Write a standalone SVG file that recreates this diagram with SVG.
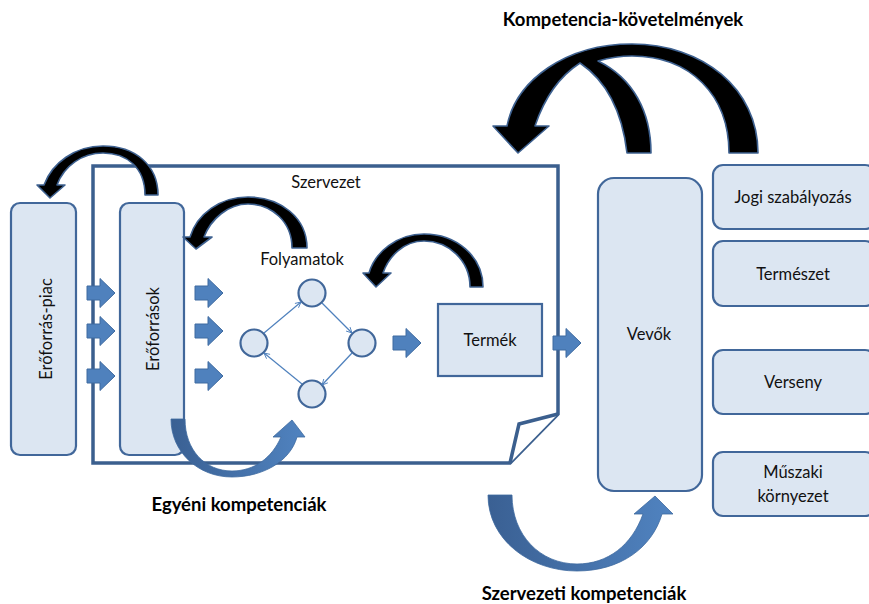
<svg xmlns="http://www.w3.org/2000/svg" width="869" height="604" viewBox="0 0 869 604">
<defs>
<style>
.box{fill:#dce6f2;stroke:#41679a;stroke-width:2.2}
.frame{fill:#fff;stroke:#3b5f8e;stroke-width:3.5;stroke-linejoin:miter}
.blk{fill:#000;stroke:#3e6190;stroke-width:1.6;stroke-linejoin:round}
.ba{fill:#4f81bd;stroke:#3e6aa0;stroke-width:1}
.thin{fill:none;stroke:#4f81bd;stroke-width:1.2;marker-end:url(#ah)}
.t{font-family:Lato,"Liberation Sans",sans-serif;font-size:16.5px;fill:#111;text-anchor:middle}
.b{font-family:Lato,"Liberation Sans",sans-serif;font-size:18.5px;font-weight:bold;fill:#000;text-anchor:middle}
</style>
<marker id="ah" viewBox="0 0 10 10" refX="9" refY="5" markerWidth="7" markerHeight="7" orient="auto" markerUnits="userSpaceOnUse">
<path d="M1,1 L9,5 L1,9" fill="none" stroke="#4f81bd" stroke-width="1.3"/>
</marker>
<path id="blockArrow" d="M0,-7 H13 V-14.5 L28,0 L13,14.5 V7 H0 Z"/>
<linearGradient id="gb" x1="0" y1="0" x2="1" y2="0">
<stop offset="0" stop-color="#3a6093"/>
<stop offset="1" stop-color="#5083c0"/>
</linearGradient>
</defs>
<rect width="869" height="604" fill="#fff"/>

<g id="szervezet">
<path class="frame" d="M93,166 H558 V414 L510,463 H93 Z"/>
<path class="frame" fill="none" d="M558,414 L519,424 L510,463"/>
<text class="t" x="326" y="188">Szervezet</text>
</g>

<g id="eroforras-piac">
<rect class="box" x="11" y="203" width="65" height="252" rx="9"/>
<text class="t" transform="translate(52,329) rotate(-90)">Erőforrás-piac</text>
</g>

<g id="eroforrasok">
<rect class="box" x="120" y="203" width="64" height="252" rx="9"/>
<text class="t" transform="translate(159,329) rotate(-90)">Erőforrások</text>
</g>

<g id="folyamatok">
<text class="t" x="302" y="265">Folyamatok</text>
<circle class="box" cx="312" cy="293" r="13.5"/>
<circle class="box" cx="254" cy="343" r="13.5"/>
<circle class="box" cx="362" cy="343" r="13.5"/>
<circle class="box" cx="312" cy="394" r="13.5"/>
</g>

<g id="termek">
<rect class="box" x="438" y="304" width="104" height="72"/>
<text class="t" x="490" y="346">Termék</text>
</g>

<g id="vevok">
<rect class="box" x="598" y="178" width="104" height="313" rx="16"/>
<text class="t" x="649" y="340">Vevők</text>
</g>

<g id="jogi">
<rect class="box" x="713" y="165" width="162" height="64" rx="10"/>
<text class="t" x="793" y="203">Jogi szabályozás</text>
</g>
<g id="termeszet">
<rect class="box" x="713" y="241" width="162" height="65" rx="10"/>
<text class="t" x="793" y="280">Természet</text>
</g>
<g id="verseny">
<rect class="box" x="713" y="350" width="162" height="64" rx="10"/>
<text class="t" x="793" y="388">Verseny</text>
</g>
<g id="muszaki">
<rect class="box" x="713" y="452" width="162" height="64" rx="10"/>
<text class="t" x="793" y="478">Műszaki</text>
<text class="t" x="793" y="502">környezet</text>
</g>

<g id="connectors">
<use href="#blockArrow" class="ba" x="87" y="293"/>
<use href="#blockArrow" class="ba" x="87" y="331"/>
<use href="#blockArrow" class="ba" x="87" y="376"/>
<use href="#blockArrow" class="ba" x="195" y="293"/>
<use href="#blockArrow" class="ba" x="195" y="331"/>
<use href="#blockArrow" class="ba" x="195" y="376"/>
<use href="#blockArrow" class="ba" x="393" y="343"/>
<use href="#blockArrow" class="ba" x="553" y="343"/>

<path class="thin" d="M264,333 L301,302"/>
<path class="thin" d="M322,303 L352,333"/>
<path class="thin" d="M352,353 L322,385"/>
<path class="thin" d="M302,384 L264,353"/>

<path class="blk" d="M158,195 C158,165 135,146 103,146 C75,146 52,163 44,185 L37,185 L50,198 L65,185 L57,185 C64,166 82,153 103,153 C126,153 145,167 145,195 Z"/>
<path class="blk" d="M307,248 C307,218 281,197 248,197 C220,197 197,214 190,237 L183,237 L196,249 L212,237 L204,237 C211,219 228,204 248,204 C272,204 292,222 292,248 Z"/>
<path class="blk" d="M483,287 C483,256 456,234 424,234 C397,234 375,252 369,273 L363,273 L376,287 L391,273 L383,273 C389,256 404,241 424,241 C448,241 470,260 470,287 Z"/>
<path class="blk" d="M758,153 C758,88 702,44 632,44 C566,44 516,80 507,126 L493,126 L518,153 L549,126 L535,126 C545,96 560,76 580,63 C605,80 622,110 627,153 L651,153 C651,112 633,78 598,61 C612,57 622,56 632,56 C690,56 729,95 729,153 Z"/>

<path fill="url(#gb)" stroke="#3e6aa0" stroke-width="0.8" d="M171,419 C171,452 198,477 232,477 C262,477 290,462 297,437 L305,437 L292,420 L273,437 L281,437 C272,458 254,471 232,471 C205,471 185,450 185,419 Z"/>
<path fill="url(#gb)" stroke="#3e6aa0" stroke-width="0.8" d="M488,495 C488,540 530,571 577,571 C620,571 652,548 662,514 L673,514 L655,496 L634,514 L643,514 C632,545 608,564 577,564 C540,564 512,535 512,495 Z"/>
</g>

<g id="labels">
<text class="b" x="623" y="26">Kompetencia-követelmények</text>
<text class="b" x="239" y="511">Egyéni kompetenciák</text>
<text class="b" x="584" y="600">Szervezeti kompetenciák</text>
</g>
</svg>
